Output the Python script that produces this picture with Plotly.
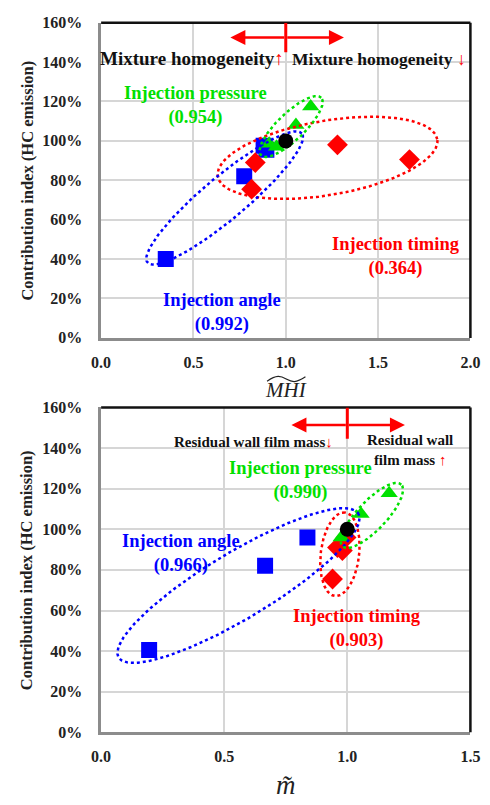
import numpy as np
import plotly.graph_objects as go

# ---------------- data ----------------
# Top panel (x = MHI~)
top_angle_x = [0.35, 0.775, 0.88, 0.895]
top_angle_y = [40, 82, 97.5, 95.5]
top_timing_x = [0.815, 0.835, 1.28, 1.67]
top_timing_y = [75.5, 89, 98, 90.5]
top_press_x = [0.91, 0.95, 1.055, 1.135]
top_press_y = [98.5, 97, 108, 117.5]
top_base_x = [1.0]
top_base_y = [100]

# Bottom panel (x = m~)
bot_angle_x = [0.195, 0.666, 0.838]
bot_angle_y = [40.5, 82, 96]
bot_timing_x = [0.94, 0.96, 0.98, 0.995]
bot_timing_y = [75.5, 91, 89.5, 96]
bot_press_x = [0.975, 1.056, 1.17]
bot_press_y = [96, 107.5, 117.7]
bot_base_x = [1.0]
bot_base_y = [100]

y_ticks = [0, 20, 40, 60, 80, 100, 120, 140, 160]
y_tick_text = [f"{v}%" for v in y_ticks]
top_x_ticks = [0.0, 0.5, 1.0, 1.5, 2.0]
bot_x_ticks = [0.0, 0.5, 1.0, 1.5]

# ellipse groups: (center x, center y, semi-major px, semi-minor px, angle deg)
top_ellipses = {
    "angle": (0.669, 71.0, 104, 22, 39.3),
    "timing": (1.226, 91.4, 116, 38, 9.4),
    "press": (1.029, 107.3, 43, 14, 43),
}
bot_ellipses = {
    "angle": (0.558, 72.3, 145, 34, 30.4),
    "timing": (0.970, 87.7, 43, 20, 83),
    "press": (1.10, 106.8, 44, 15, 45.8),
}

# ---------------- layout geometry ----------------
W, H = 490, 805
TOP_PX = (95, 480, 15, 337)   # left, right, top, bottom
BOT_PX = (95, 480, 408, 740)
top_xr = [0, 2.0]
bot_xr = [0, 1.5]
yr = [0, 160]

BLUE = "#0000ff"
RED = "#ff0000"
GREEN = "#00e000"
FONT = "Liberation Serif"


def dom_x(px):
    return [px[0] / W, px[1] / W]


def dom_y(px):
    return [1 - px[3] / H, 1 - px[2] / H]


def ellipse(params, xr, px):
    cx, cy, a, b, ang = params
    xs = (px[1] - px[0]) / (xr[1] - xr[0])
    ys = (px[3] - px[2]) / (yr[1] - yr[0])
    t = np.linspace(0, 2 * np.pi, 200)
    th = np.deg2rad(ang)
    dx = a * np.cos(t) * np.cos(th) - b * np.sin(t) * np.sin(th)
    dy = a * np.cos(t) * np.sin(th) + b * np.sin(t) * np.cos(th)
    return cx + dx / xs, cy + dy / ys


fig = go.Figure()


def add_panel(xa, ya, ax, ay, tx, ty, px, py, bx, by, ells, xr, pxgeom):
    fig.add_trace(go.Scatter(x=ax, y=ay, mode="markers", xaxis=xa, yaxis=ya,
                             marker=dict(symbol="square", size=16, color=BLUE)))
    fig.add_trace(go.Scatter(x=tx, y=ty, mode="markers", xaxis=xa, yaxis=ya,
                             marker=dict(symbol="diamond", size=16, color=RED)))
    fig.add_trace(go.Scatter(x=px, y=py, mode="markers", xaxis=xa, yaxis=ya,
                             marker=dict(symbol="triangle-up", size=15, color=GREEN)))
    for key, col in (("timing", RED), ("angle", BLUE), ("press", GREEN)):
        ex, ey = ellipse(ells[key], xr, pxgeom)
        fig.add_trace(go.Scatter(x=ex, y=ey, mode="lines", xaxis=xa, yaxis=ya,
                                 line=dict(color=col, width=2.5, dash="dot"),
                                 hoverinfo="skip"))
    fig.add_trace(go.Scatter(x=bx, y=by, mode="markers", xaxis=xa, yaxis=ya,
                             marker=dict(symbol="circle", size=15, color="black")))


add_panel("x", "y", top_angle_x, top_angle_y, top_timing_x, top_timing_y,
          top_press_x, top_press_y, top_base_x, top_base_y, top_ellipses, top_xr, TOP_PX)
add_panel("x2", "y2", bot_angle_x, bot_angle_y, bot_timing_x, bot_timing_y,
          bot_press_x, bot_press_y, bot_base_x, bot_base_y, bot_ellipses, bot_xr, BOT_PX)

tickfont = dict(family=FONT, size=16, color="#222", weight="bold")
axis_common = dict(showgrid=True, gridcolor="#d6d6d6", gridwidth=1.5, zeroline=False,
                   showline=True, linecolor="#8c8c8c", linewidth=2.5,
                   tickfont=tickfont, ticks="", fixedrange=True)

fig.update_layout(
    width=W, height=H, margin=dict(l=0, r=0, t=0, b=0),
    paper_bgcolor="white", plot_bgcolor="white", showlegend=False,
    xaxis=dict(domain=dom_x(TOP_PX), range=top_xr, tickvals=top_x_ticks,
               ticktext=[f"{v:.1f}" for v in top_x_ticks], anchor="y",
               ticklabelstandoff=8, **axis_common),
    yaxis=dict(domain=dom_y(TOP_PX), range=yr, tickvals=y_ticks, ticktext=y_tick_text,
               anchor="x", ticklabelstandoff=13, **axis_common),
    xaxis2=dict(domain=dom_x(BOT_PX), range=bot_xr, tickvals=bot_x_ticks,
                ticktext=[f"{v:.1f}" for v in bot_x_ticks], anchor="y2",
                ticklabelstandoff=8, **axis_common),
    yaxis2=dict(domain=dom_y(BOT_PX), range=yr, tickvals=y_ticks, ticktext=y_tick_text,
                anchor="x2", ticklabelstandoff=13, **axis_common),
)

# top/right black border
for xa, ya in (("x", "y"), ("x2", "y2")):
    fig.add_shape(type="line", xref=f"{xa} domain", yref=f"{ya} domain",
                  x0=0, x1=1, y0=1, y1=1, line=dict(color="#111", width=2.5))
    fig.add_shape(type="line", xref=f"{xa} domain", yref=f"{ya} domain",
                  x0=1, x1=1, y0=0, y1=1, line=dict(color="#111", width=2.5))

# red direction markers
fig.add_shape(type="line", xref="x", yref="y", x0=1.0, x1=1.0, y0=145, y1=160,
              line=dict(color=RED, width=3))
fig.add_shape(type="line", xref="x2", yref="y2", x0=1.0, x1=1.0, y0=144.6, y1=160,
              line=dict(color=RED, width=3))
for xa, ya, x0, x1, yv in (("x", "y", 0.70, 1.315, 152.5), ("x2", "y2", 0.773, 1.234, 151.3)):
    for xe in (x0, x1):
        fig.add_annotation(x=xe, y=yv, ax=1.0, ay=yv, xref=xa, yref=ya, axref=xa, ayref=ya,
                           text="", showarrow=True, arrowhead=2, arrowsize=1.2,
                           arrowwidth=2.5, arrowcolor=RED, standoff=0)


def txt(xa, ya, x, y, text, color, size):
    fig.add_annotation(x=x, y=y, xref=xa, yref=ya, text=text, showarrow=False,
                       xanchor="center", yanchor="middle",
                       font=dict(family=FONT, size=size, color=color, weight="bold"),
                       align="center")


ARR_UP = "<span style='color:red;font-weight:normal'>↑</span>"
ARR_DN = "<span style='color:red;font-weight:normal'>↓</span>"

txt("x", "y", 0.49, 141.8, "Mixture homogeneity" + ARR_UP, "#111", 19)
txt("x", "y", 1.505, 141.8, "Mixture homogeneity " + ARR_DN, "#111", 17.5)
txt("x", "y", 0.51, 117.8, "Injection pressure<br>(0.954)", GREEN, 18.5)
txt("x", "y", 1.595, 41.5, "Injection timing<br>(0.364)", RED, 18.5)
txt("x", "y", 0.655, 12.9, "Injection angle<br>(0.992)", BLUE, 18.5)

txt("x2", "y2", 0.619, 143.1, "Residual wall film mass" + ARR_DN, "#111", 15)
txt("x2", "y2", 1.256, 138.8, "Residual wall<br>film mass " + ARR_UP, "#111", 15)
txt("x2", "y2", 0.81, 124.1, "Injection pressure<br>(0.990)", GREEN, 18.5)
txt("x2", "y2", 0.323, 88.0, "Injection angle<br>(0.966)", BLUE, 18.5)
txt("x2", "y2", 1.04, 51.1, "Injection timing<br>(0.903)", RED, 18.5)

# y-axis titles
for cy in ((TOP_PX[2] + TOP_PX[3]) / 2, (BOT_PX[2] + BOT_PX[3]) / 2):
    fig.add_annotation(x=18 / W, y=1 - cy / H, xref="paper", yref="paper",
                       xanchor="center", yanchor="middle",
                       text="Contribution index (HC emission)", textangle=-90,
                       showarrow=False,
                       font=dict(family=FONT, size=16.5, color="#222", weight="bold"))

# x-axis titles
fig.add_annotation(x=288 / W, y=1 - 390 / H, xref="paper", yref="paper", text="<i>MHI</i>",
                   xanchor="center", yanchor="middle",
                   showarrow=False, font=dict(family=FONT, size=21, color="#222"))
# wide tilde over MHI
x0, x1, yt = 268 / W, 308 / W, 1 - 379 / H
amp = 2.2 / H
xm = (x0 + x1) / 2
fig.add_shape(type="path", xref="paper", yref="paper",
              path=(f"M {x0},{yt - amp} C {x0 + (xm - x0) * 0.5},{yt + 2 * amp} "
                    f"{xm - (xm - x0) * 0.3},{yt + 1.5 * amp} {xm},{yt} "
                    f"S {x1 - (x1 - xm) * 0.5},{yt - 2 * amp} {x1},{yt + amp}"),
              line=dict(color="#222", width=1.2))
fig.add_annotation(x=288 / W, y=1 - 794 / H, xref="paper", yref="paper", text="<i>m\u0303</i>",
                   xanchor="center", yanchor="middle",
                   showarrow=False, font=dict(family=FONT, size=27, color="#222"))

fig.write_html("out.html")
